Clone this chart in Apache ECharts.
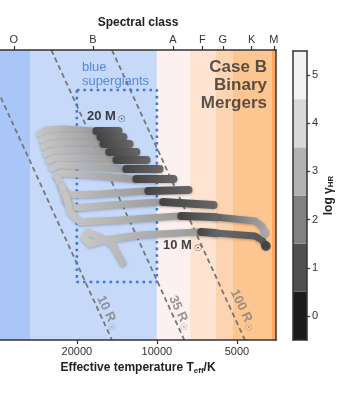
<!DOCTYPE html>
<html>
<head>
<meta charset="utf-8">
<script src="https://cdn.jsdelivr.net/npm/echarts@6/dist/echarts.min.js"></script>
<style>
  html, body { margin: 0; padding: 0; background: #fff; }
  #chart { width: 357px; height: 393px; }
</style>
</head>
<body>
<div id="chart"></div>
<script>
// axes: x = log10 Teff (reversed), y = log10 L
const xMin = 3.552, xMax = 4.590, yMin = 3.63, yMax = 5.63

const tempTicks = [5000, 10000, 20000]
const spectralClasses = ['O', 'B', 'A', 'F', 'G', 'K', 'M']
const spectralTemps = [34500, 17400, 8700, 6750, 5650, 4400, 3630]

// spectral class bands (K) hot -> cool
const bandEdges = [30000, 10000, 7500, 6000, 5200, 3700]
const bandColors = ['#aac6f8', '#c6d9f9', '#fdf0f0', '#fde3d0', '#fdd4b1', '#fdc590', '#fba95e']

// colour bar
const gammaLevels = [0, 1, 2, 3, 4, 5]
const gammaColors = ['#1c1c1c', '#4f4f4f', '#818181', '#b3b3b3', '#d8d8d8', '#f3f3f3']

// constant radius lines [logT, logL]
const radiusNames = ['10', '35', '100']
const radiusLines = [
  [[4.600, 5.355], [4.169, 3.63]],
  [[4.397, 5.63], [3.897, 3.63]],
  [[4.169, 5.63], [3.669, 3.63]]
]
const radiusLabelPos = [[4.184, 3.816], [3.913, 3.816], [3.676, 3.837]]

// blue supergiant box
const bsgBox = [[4.301, 5.354], [4.0, 5.354], [4.0, 4.03], [4.301, 4.03], [4.301, 5.354]]

// merger tracks, top (20 Msun) to bottom (10 Msun)
const tracksLight = [
  [[4.440, 5.051], [4.417, 5.078], [4.346, 5.085], [4.240, 5.071]],
  [[4.432, 5.009], [4.410, 5.030], [4.327, 5.037], [4.225, 5.030]],
  [[4.425, 4.961], [4.402, 4.982], [4.319, 4.989], [4.214, 4.982]],
  [[4.417, 4.913], [4.394, 4.933], [4.308, 4.940], [4.192, 4.927]],
  [[4.406, 4.865], [4.383, 4.885], [4.289, 4.885], [4.165, 4.871]],
  [[4.394, 4.816], [4.372, 4.837], [4.270, 4.830], [4.128, 4.809]],
  [[4.380, 4.761], [4.361, 4.782], [4.252, 4.768], [4.090, 4.740]],
  [[4.372, 4.747], [4.357, 4.678], [4.327, 4.630], [4.214, 4.637], [4.045, 4.658]],
  [[4.357, 4.692], [4.346, 4.596], [4.308, 4.540], [4.176, 4.561], [3.989, 4.582]],
  [[4.342, 4.630], [4.327, 4.513], [4.289, 4.444], [4.139, 4.458], [3.921, 4.485]],
  [[4.128, 4.161], [4.165, 4.285], [4.214, 4.340], [4.259, 4.375], [4.274, 4.333],
   [4.252, 4.292], [4.195, 4.320], [4.064, 4.354], [3.846, 4.375]]
]
const tracksDark = [
  [[4.227, 5.071], [4.144, 5.071]],
  [[4.212, 5.030], [4.126, 5.030]],
  [[4.201, 4.982], [4.103, 4.982]],
  [[4.179, 4.927], [4.077, 4.927]],
  [[4.152, 4.871], [4.039, 4.871]],
  [[4.115, 4.809], [3.990, 4.809]],
  [[4.077, 4.740], [3.938, 4.740]],
  [[4.032, 4.658], [3.881, 4.665]],
  [[3.976, 4.582], [3.787, 4.561]],
  [[3.908, 4.485], [3.782, 4.478]],
  [[3.833, 4.375], [3.782, 4.368]]
]
const tailColors = [['#5a5a5a', '#a8a8a8'], ['#6a6a6a', '#555555']]
const tracksTail = [
  [[3.782, 4.478], [3.631, 4.451], [3.605, 4.416], [3.594, 4.368]],
  [[3.782, 4.368], [3.631, 4.347], [3.605, 4.320], [3.590, 4.278]]
]
const tailEndColors = ['#a8a8a8', '#3f3f3f']

const FONT = '"Liberation Sans", Arial, "DejaVu Sans", sans-serif'
const chart = echarts.init(document.getElementById('chart'))

function grad(c0, c1) {
  return new echarts.graphic.LinearGradient(0, 0, 1, 0, [
    { offset: 0, color: c0 }, { offset: 1, color: c1 }
  ])
}

function trackSeries(data, color, width) {
  return {
    type: 'line', data: data, symbol: 'none', z: 3, silent: true,
    lineStyle: {
      color: color, width: width, cap: 'round', join: 'round',
      shadowBlur: 3, shadowColor: 'rgba(0,0,0,0.25)', shadowOffsetY: 1
    }
  }
}

const bandBounds = [xMax].concat(bandEdges.map(t => Math.log10(t)), [xMin])
const bands = bandColors.map((c, i) => [
  { xAxis: bandBounds[i], itemStyle: { color: c } },
  { xAxis: bandBounds[i + 1] }
])

const series = []
series.push({
  type: 'line', data: [], z: 0, silent: true,
  markArea: { silent: true, data: bands }
})
radiusLines.forEach(d => series.push({
  type: 'line', data: d, symbol: 'none', z: 2, silent: true,
  lineStyle: { color: '#777', width: 1.8, type: [5, 3.5] }
}))
series.push({
  type: 'line', data: bsgBox, symbol: 'none', z: 2, silent: true,
  lineStyle: { color: '#3b78e0', width: 2.6, type: [2.6, 4] }
})
tracksLight.forEach(d => series.push(trackSeries(d, grad('#c8c8c8', '#9a9a9a'), 7)))
tracksTail.forEach((d, i) => series.push(trackSeries(d, grad(tailColors[i][0], tailColors[i][1]), 7)))
tracksDark.forEach(d => series.push(trackSeries(d, grad('#424242', '#686868'), 8)))
series.push({
  type: 'scatter', z: 4, silent: true, symbolSize: 10,
  data: tracksTail.map((d, i) => ({ value: d[d.length - 1], itemStyle: { color: tailEndColors[i] } }))
})

// text annotations
const labelBase = { show: true, fontFamily: FONT }
const annotations = [
  {
    value: [4.282, 5.465],
    label: Object.assign({}, labelBase, {
      formatter: 'blue\nsupergiants', align: 'left', verticalAlign: 'middle',
      fontSize: 13, lineHeight: 14, color: '#3a76d8'
    })
  },
  {
    value: [3.586, 5.389],
    label: Object.assign({}, labelBase, {
      formatter: 'Case B\nBinary\nMergers', align: 'right', verticalAlign: 'middle',
      fontSize: 17, fontWeight: 'bold', lineHeight: 18, color: '#2e2e2e'
    })
  },
  {
    value: [4.263, 5.175],
    label: Object.assign({}, labelBase, {
      formatter: '{b|20 M}{s|☉}', align: 'left', verticalAlign: 'middle',
      rich: {
        b: { fontFamily: FONT, fontSize: 13, fontWeight: 'bold', color: '#111' },
        s: { fontFamily: FONT, fontSize: 9, color: '#111', padding: [7, 0, 0, 2] }
      }
    })
  },
  {
    value: [3.977, 4.285],
    label: Object.assign({}, labelBase, {
      formatter: '{b|10 M}{s|☉}', align: 'left', verticalAlign: 'middle',
      rich: {
        b: { fontFamily: FONT, fontSize: 13, fontWeight: 'bold', color: '#111' },
        s: { fontFamily: FONT, fontSize: 9, color: '#111', padding: [7, 0, 0, 2] }
      }
    })
  }
].concat(radiusNames.map((r, i) => ({
  value: radiusLabelPos[i],
  label: Object.assign({}, labelBase, {
    formatter: '{b|' + r + ' R}{s|☉}', rotate: -65, align: 'center', verticalAlign: 'middle',
    rich: {
      b: { fontFamily: FONT, fontSize: 13, fontWeight: 'bold', color: '#808080' },
      s: { fontFamily: FONT, fontSize: 9, color: '#808080', padding: [6, 0, 0, 1] }
    }
  })
})))
series.push({
  type: 'scatter', z: 5, silent: true, symbolSize: 0, data: annotations,
  label: { show: true, position: 'inside' }
})

// colour bar
series.push({
  type: 'line', data: [], xAxisIndex: 2, yAxisIndex: 1, z: 1, silent: true,
  markArea: {
    silent: true,
    data: gammaLevels.map((g, i) => [
      { yAxis: g - 0.5, itemStyle: { color: gammaColors[i] } },
      { yAxis: g + 0.5 }
    ])
  }
})

const axisLineStyle = { show: true, onZero: false, lineStyle: { color: '#333', width: 1.5 } }
const tickStyle = { lineStyle: { color: '#333', width: 1.2 } }

chart.setOption({
  animation: false,
  backgroundColor: '#fff',
  grid: [
    { left: 0, right: 81, top: 50, bottom: 53 },
    { left: 293, width: 14, top: 51, bottom: 53 }
  ],
  xAxis: [
    {
      type: 'value', min: xMin, max: xMax, inverse: true, position: 'bottom', z: 10,
      axisLine: axisLineStyle, splitLine: { show: false },
      axisTick: Object.assign({ customValues: tempTicks.map(t => Math.log10(t)), length: 4 }, tickStyle),
      axisLabel: {
        customValues: tempTicks.map(t => Math.log10(t)), margin: 6,
        fontFamily: FONT, fontSize: 11, color: '#333',
        formatter: v => String(Math.round(Math.pow(10, v) / 100) * 100)
      },
      name: '{a|Effective temperature T}{s|eff}{a|/K}', nameLocation: 'middle', nameGap: 20,
      nameTextStyle: {
        rich: {
          a: { fontFamily: FONT, fontSize: 12, fontWeight: 'bold', color: '#222' },
          s: { fontFamily: FONT, fontSize: 8, fontWeight: 'bold', color: '#222', padding: [5, 0, 0, 0] }
        }
      }
    },
    {
      type: 'value', min: xMin, max: xMax, inverse: true, position: 'top', z: 10,
      axisLine: axisLineStyle, splitLine: { show: false },
      axisTick: Object.assign({ customValues: spectralTemps.map(t => Math.log10(t)), length: 4 }, tickStyle),
      axisLabel: {
        customValues: spectralTemps.map(t => Math.log10(t)), margin: 5,
        fontFamily: FONT, fontSize: 11, color: '#333',
        formatter: v => {
          let best = 0
          spectralTemps.forEach((t, i) => {
            if (Math.abs(Math.log10(t) - v) < Math.abs(Math.log10(spectralTemps[best]) - v)) best = i
          })
          return spectralClasses[best]
        }
      },
      name: 'Spectral class', nameLocation: 'middle', nameGap: 21,
      nameTextStyle: { fontFamily: FONT, fontSize: 12, fontWeight: 'bold', color: '#222' }
    },
    {
      gridIndex: 1, type: 'value', min: 0, max: 1, position: 'bottom', z: 10,
      axisLine: axisLineStyle, axisTick: { show: false }, axisLabel: { show: false }, splitLine: { show: false }
    },
    {
      gridIndex: 1, type: 'value', min: 0, max: 1, position: 'top', z: 10,
      axisLine: axisLineStyle, axisTick: { show: false }, axisLabel: { show: false }, splitLine: { show: false }
    }
  ],
  yAxis: [
    {
      type: 'value', min: yMin, max: yMax, position: 'right', z: 10,
      axisLine: axisLineStyle, axisTick: { show: false }, axisLabel: { show: false }, splitLine: { show: false }
    },
    {
      gridIndex: 1, type: 'value', min: -0.5, max: 5.5, position: 'right', z: 10,
      axisLine: axisLineStyle, splitLine: { show: false },
      axisTick: Object.assign({ customValues: gammaLevels, length: 3 }, tickStyle),
      axisLabel: { customValues: gammaLevels, margin: 5, fontFamily: FONT, fontSize: 11, color: '#333' },
      name: '{a|log γ}{s|HR}', nameLocation: 'middle', nameGap: 15, nameRotate: 90,
      nameTextStyle: {
        rich: {
          a: { fontFamily: FONT, fontSize: 12, fontWeight: 'bold', color: '#222' },
          s: { fontFamily: FONT, fontSize: 8, fontWeight: 'bold', color: '#222', padding: [5, 0, 0, 0] }
        }
      }
    },
    {
      gridIndex: 1, type: 'value', min: -0.5, max: 5.5, position: 'left', z: 10,
      axisLine: axisLineStyle, axisTick: { show: false }, axisLabel: { show: false }, splitLine: { show: false }
    }
  ],
  series: series
})
</script>
</body>
</html>
